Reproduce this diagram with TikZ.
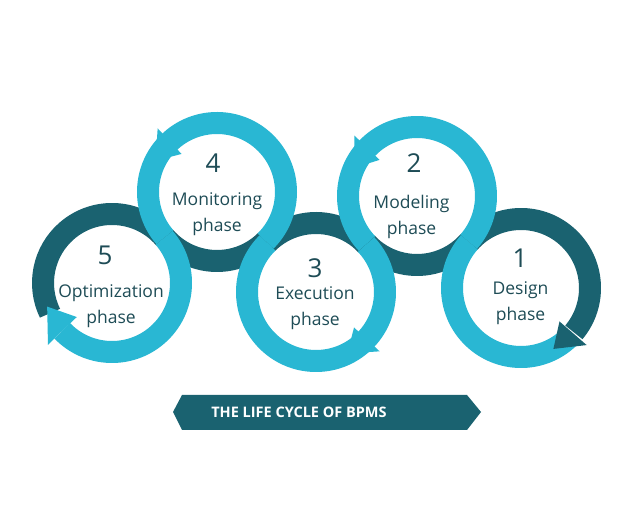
\documentclass[tikz,border=0pt]{standalone}
\usepackage{fontspec}
\setmainfont{Open Sans}
\usetikzlibrary{calc}
\definecolor{CycleCyan}{RGB}{41,183,211}
\definecolor{CycleTeal}{RGB}{26,98,112}
\definecolor{PhaseInk}{RGB}{30,76,86}

\begin{document}
\begin{tikzpicture}[x=1pt,y=1pt,
  lightband/.style={line width=22pt,draw=CycleCyan},
  darkband/.style={line width=22pt,draw=CycleTeal},
  num/.style={text=PhaseInk,inner sep=0pt,font=\fontsize{26}{30}\selectfont},
  phase/.style={text=PhaseInk,inner sep=0pt,align=center,
    font=\fontsize{17.5}{26}\selectfont}
]
\useasboundingbox (0,0) rectangle (624,530);
\fill[white] (0,0) rectangle (624,530);

\coordinate (c5) at (112,247);
\coordinate (c4) at (217,338);
\coordinate (c3) at (316,238);
\coordinate (c2) at (417,334);
\coordinate (c1) at (521,242);

\draw[darkband] (c5) ++(40.9:69) arc[start angle=40.9,end angle=206,radius=69];
\draw[darkband] (c4) ++(220.9:69) arc[start angle=220.9,end angle=314.7,radius=69];
\draw[darkband] (c3) ++(134.7:69) arc[start angle=134.7,end angle=43.5,radius=69];
\draw[darkband] (c2) ++(223.5:69) arc[start angle=223.5,end angle=318.5,radius=69];
\draw[darkband] (c1) ++(138.5:69) arc[start angle=138.5,end angle=-40,radius=69];

\draw[lightband] (c5) ++(40.9:69) arc[start angle=40.9,end angle=-136,radius=69];
\draw[lightband] (c4) ++(-45.3:69) arc[start angle=-45.3,end angle=220.9,radius=69];
\draw[lightband] (c3) ++(43.5:69) arc[start angle=43.5,end angle=-225.3,radius=69];
\draw[lightband] (c2) ++(-41.5:69) arc[start angle=-41.5,end angle=223.5,radius=69];
\draw[lightband] (c1) ++(138.5:69) arc[start angle=138.5,end angle=315,radius=69];

\fill[CycleCyan] ($(c5)+(224:49)$) -- ($(c5)+(224:89)$) -- ($(c5)+(200:69)$) -- cycle;
\fill[CycleCyan] ($(c4)+(133:52)$) -- ($(c4)+(133:87)$) -- ($(c4)+(153:69)$) -- cycle;
\fill[CycleCyan] ($(c2)+(136:52)$) -- ($(c2)+(136:87)$) -- ($(c2)+(156:69)$) -- cycle;
\fill[CycleCyan] ($(c3)+(-43:52)$) -- ($(c3)+(-43:87)$) -- ($(c3)+(-63:69)$) -- cycle;
\fill[CycleTeal] ($(c1)+(-41:51)$) -- ($(c1)+(-41:87)$) -- ($(c1)+(-62:69)$) -- cycle;

\node[num] (n4) at (213,367) {4};
\node[phase] (p4) at (217,315.5) {Monitoring\\phase};
\node[num] (n2) at (414,367) {2};
\node[phase] (p2) at (411.5,313.5) {Modeling\\phase};
\node[num] (n5) at (105,275) {5};
\node[phase] (p5) at (111,223.5) {Optimization\\phase};
\node[num] (n3) at (315,262) {3};
\node[phase] (p3) at (315,222) {Execution\\phase};
\node[num] (n1) at (520,272) {1};
\node[phase] (p1) at (520.5,227) {Design\\phase};

\fill[CycleTeal] (173,118) -- (182,135) -- (467,135) -- (481,118) -- (467,100) -- (182,100) -- cycle;
\node[text=white,inner sep=0pt,font=\bfseries\fontsize{14.5}{17}\selectfont] (title) at (299,118) {THE LIFE CYCLE OF BPMS};
\end{tikzpicture}
\end{document}
